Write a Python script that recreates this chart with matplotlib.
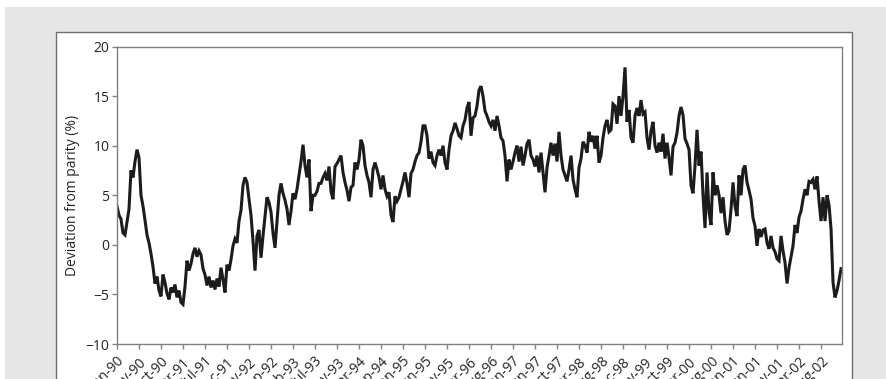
import matplotlib
matplotlib.use("Agg")
import matplotlib.pyplot as plt
from matplotlib.patches import Rectangle

plt.rcParams['font.family'] = ['Open Sans', 'DejaVu Sans']

# deviation from parity (%), sampled at even steps across Jan-90 .. Aug-02
deviation = [
    3.9, 3.0, 2.6, 1.2, 1.0, 2.3, 3.6, 7.5, 6.8, 8.4, 9.6, 8.8, 5.0, 3.9, 2.5, 1.0,
    0.2, -0.9, -2.2, -3.9, -3.2, -4.6, -5.2, -3.0, -3.8, -4.9, -5.5, -4.3, -4.8, -4.0,
    -5.3, -4.6, -5.8, -6.0, -4.2, -1.6, -2.6, -1.9, -0.9, -0.3, -1.2, -0.6, -1.0, -2.4,
    -3.0, -4.1, -3.2, -4.3, -3.6, -4.5, -3.4, -4.2, -2.3, -3.5, -4.8, -2.0, -2.6, -1.5,
    -0.1, 0.6, 0.2, 2.4,
    3.5, 6.0, 6.8, 6.3, 4.6, 3.0, 0.4, -2.6, 0.9, 1.5, -1.3, 0.9, 2.8, 4.8, 4.3, 3.3,
    1.2, -0.3, 2.3, 5.0, 6.2, 5.2, 4.5, 3.6, 2.0, 3.4, 5.2, 4.6, 5.6, 7.0, 8.4, 10.1,
    8.0, 6.8, 8.6, 3.4, 5.0, 5.0, 5.4, 6.2, 6.2, 6.8, 7.2, 6.5, 7.9, 5.4, 4.6, 7.9,
    8.2, 8.6, 9.0, 7.3, 6.3, 5.5, 4.4, 5.8, 6.0, 8.3, 7.6, 8.6,
    10.6, 10.0, 8.0, 7.0, 6.3, 4.8, 7.6, 8.3, 7.6, 6.8, 5.6, 7.0, 5.6, 4.9, 5.3, 3.0,
    2.3, 4.9, 4.4, 4.8, 5.6, 6.4, 7.3, 6.2, 4.8, 7.2, 7.6, 8.4, 9.0, 9.3, 10.4, 12.0,
    12.0, 11.0, 8.7, 9.4, 8.3, 8.0, 9.0, 9.6, 9.0, 10.0, 8.3, 7.6, 9.6, 11.0, 11.5, 12.3,
    11.7, 11.0, 10.8, 12.0, 12.6, 13.8, 14.4, 11.0, 12.8, 13.0, 14.0, 15.6,
    16.0, 15.0, 13.5, 13.0, 12.4, 12.0, 12.6, 11.5, 13.0, 12.0, 10.8, 10.5, 9.0, 6.4,
    8.6, 7.6, 8.4, 9.3, 10.0, 8.4, 9.9, 8.0, 9.0, 10.2, 10.6, 9.0, 8.6, 7.9, 9.0, 7.3,
    9.3, 7.3, 5.3, 7.8, 9.0, 10.3, 9.0, 10.2, 8.4, 11.4, 9.0, 7.6, 7.0, 6.4, 7.6, 9.0,
    6.6, 5.6, 4.8, 7.8, 8.7, 10.4, 10.0, 9.3, 11.4, 10.4, 11.0, 9.7, 11.0, 8.3,
    9.0, 10.8, 12.0, 12.6, 11.4, 11.6, 14.2, 14.0, 12.2, 15.0, 13.0, 15.0, 17.9, 12.4,
    13.6, 10.8, 10.3, 13.0, 13.8, 13.0, 14.6, 13.2, 13.4, 10.8, 9.6, 11.5, 12.4, 10.0,
    9.3, 10.3, 9.4, 11.2, 8.7, 10.3, 8.8, 7.0, 9.9, 10.3, 11.3, 13.0, 13.9, 13.1, 10.7,
    10.2, 9.6, 6.0, 5.2, 8.0, 11.6, 8.0, 9.4, 5.0, 1.7, 7.3, 3.3, 2.0, 7.3, 5.0, 6.0, 5.0,
    3.2, 4.8, 2.4, 1.0, 1.4, 3.6, 6.3, 3.9, 2.9, 7.0, 5.0, 7.6, 8.0, 6.3, 5.5, 4.6,
    2.7, 1.9, -0.1, 1.6, 0.8, 1.5, 1.6, 0.2, -0.4, 0.9, -0.3, -0.7, -1.4, -1.6, 0.9,
    -0.6, -1.8, -3.9, -2.3, -1.2, -0.1, 2.0, 1.2, 2.8, 3.4, 4.6, 5.6, 5.0, 6.4, 6.3,
    6.6, 5.6, 6.9, 4.4, 2.4, 4.8, 2.4, 5.0, 4.0, 1.6, -3.8, -5.3, -4.6, -3.6, -2.4,
]

tick_labels = [
    'Jan-90', 'May-90', 'Oct-90', 'Mar-91', 'Jul-91', 'Dec-91', 'May-92', 'Sep-92',
    'Feb-93', 'Jul-93', 'Nov-93', 'Apr-94', 'Sep-94', 'Jan-95', 'Jun-95', 'Nov-95',
    'Mar-96', 'Aug-96', 'Jan-97', 'Jun-97', 'Oct-97', 'Mar-98', 'Aug-98', 'Dec-98',
    'May-99', 'Oct-99', 'Mar-00', 'Aug-00', 'Jan-01', 'Jun-01', 'Nov-01', 'Apr-02',
    'Aug-02',
]
y_ticks = [-10, -5, 0, 5, 10, 15, 20]

TICK_STEP = 11  # samples between date labels

fig = plt.figure(figsize=(8.87, 3.79), dpi=100)
fig.patch.set_facecolor('white')

# grey page band and the white chart panel
fig.add_artist(Rectangle((0.0056, -0.05), 1.0, 1.0315, transform=fig.transFigure,
                         facecolor='#e6e6e6', edgecolor='none', zorder=0))
fig.add_artist(Rectangle((0.0631, -0.05), 0.8974, 0.9656, transform=fig.transFigure,
                         facecolor='white', edgecolor='#6e6e6e', linewidth=1.0, zorder=1))

ax = fig.add_axes([0.1319, 0.0923, 0.8174, 0.785])
ax.set_zorder(2)

x = list(range(len(deviation)))
ax.plot(x, deviation, color='#1c1c1c', linewidth=2.2, solid_joinstyle='miter')

ax.set_xlim(0, len(deviation) - 0.5)
ax.set_ylim(-10, 20)
ax.set_yticks(y_ticks)
ax.set_xticks([i * TICK_STEP for i in range(len(tick_labels))])
ax.set_xticklabels(tick_labels, rotation=45, ha='right', rotation_mode='anchor')

for s in ax.spines.values():
    s.set_color('#808080')
    s.set_linewidth(1.0)
ax.tick_params(direction='out', length=3.5, width=1.0, color='#808080',
               labelsize=10, labelcolor='#222222', pad=2)
ax.tick_params(axis='x', pad=4)
ax.set_ylabel('Deviation from parity (%)', fontsize=10, color='#222222', labelpad=4)

fig.savefig('out.png', dpi=100)
